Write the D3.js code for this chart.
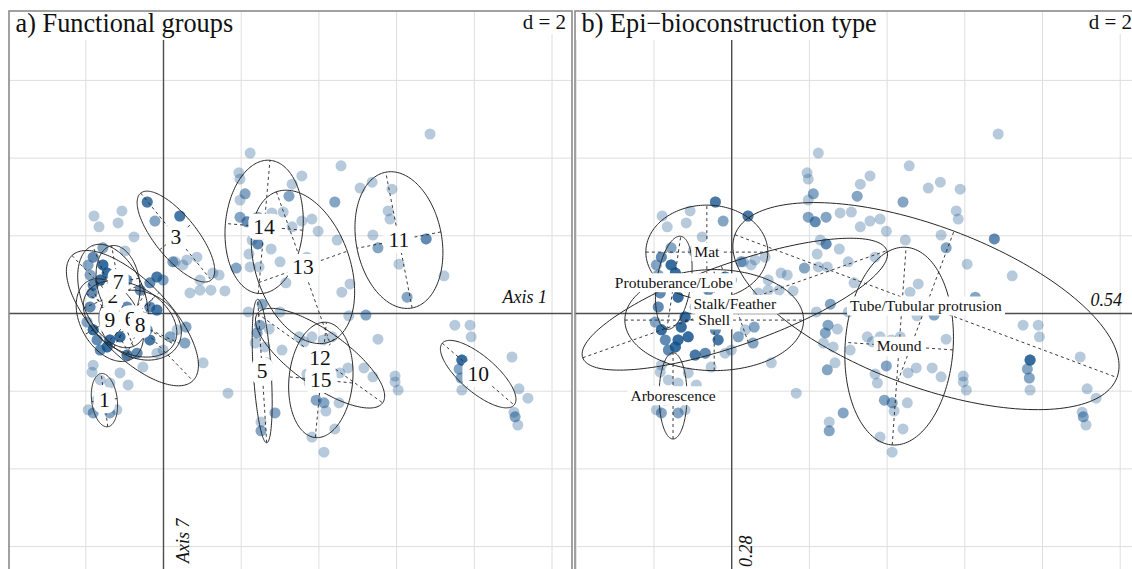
<!DOCTYPE html>
<html>
<head>
<meta charset="utf-8">
<script src="https://cdn.jsdelivr.net/npm/d3@7"></script>
<style>
  html, body { margin: 0; padding: 0; background: #fff; }
  svg { display: block; }
  text { font-family: "Liberation Serif", "Times New Roman", serif; fill: #111; }
</style>
</head>
<body>
<svg id="chart" width="1132" height="569"></svg>
<script>
// Sample scores on the two retained axes: [axis 1, axis 7, number of coincident samples]
const samples = [
  [6.86,4.62,1],[2.23,4.13,1],[1.94,3.62,1],[1.97,3.46,1],[3.56,3.54,1],[4.57,3.80,1],
  [3.31,3.33,1],[2.10,3.08,2],[1.97,2.92,1],[5.06,3.23,1],[5.37,3.38,1],[5.88,3.20,1],
  [4.41,2.87,2],[3.23,3.02,2],[2.79,2.59,1],[3.08,2.61,1],[1.97,2.48,2],[2.15,2.36,3],
  [2.43,2.48,2],[3.56,2.38,1],[3.82,2.43,1],[3.31,2.23,1],[3.98,2.12,1],[5.78,2.64,1],
  [5.83,2.43,1],[5.39,2.02,1],[5.52,1.69,2],[6.76,1.92,3],[4.47,1.89,1],[2.28,1.89,1],
  [2.43,1.79,3],[2.77,1.66,1],[2.20,1.53,1],[3.00,1.33,1],[3.69,1.45,1],[1.87,1.17,2],
  [2.23,1.20,1],[2.46,1.20,1],[6.06,1.27,1],[7.22,0.97,1],[3.15,0.79,1],[4.80,0.76,1],
  [4.59,0.55,1],[6.27,0.42,2],[2.54,0.24,2],[2.18,0.04,1],[5.21,-0.04,2],[4.77,-0.06,1],
  [2.48,-0.30,2],[2.41,-0.50,2],[2.72,-0.40,1],[2.36,-0.76,1],[2.61,-0.86,1],[3.05,-0.94,1],
  [3.62,-0.73,1],[3.82,-0.60,1],[3.49,-0.60,1],[4.11,-0.68,1],[4.34,-0.60,1],[5.52,-0.66,1],
  [7.50,-0.30,1],[7.89,-0.30,1],[7.92,-0.60,1],[7.68,-1.20,5],[7.61,-1.43,2],[7.66,-1.66,2],
  [7.68,-1.97,1],[8.97,-1.12,1],[9.15,-1.94,1],[9.38,-2.18,1],[9.02,-2.54,1],[9.05,-2.66,2],
  [9.12,-2.87,1],[3.98,-1.35,2],[4.54,-1.53,1],[4.75,-1.40,1],[5.16,-1.40,1],[5.39,-1.63,1],
  [5.96,-1.61,1],[5.96,-1.76,1],[6.04,-1.97,1],[3.69,-1.56,1],[3.75,-1.79,1],[2.46,-1.45,2],
  [2.66,-1.27,1],[1.66,-2.05,1],[2.87,-2.56,2],[2.51,-2.79,1],[2.51,-3.02,2],[3.93,-2.23,2],
  [4.13,-2.30,2],[4.18,-2.51,1],[4.52,-2.30,1],[4.41,-2.97,1],[3.82,-3.18,1],[4.13,-3.57,1],
  [1.02,-1.27,1],[-0.42,2.87,4],[0.42,2.51,4],[-0.22,2.38,2],[-1.79,2.51,1],[-1.66,2.23,1],
  [-1.07,2.64,1],[-1.17,2.33,1],[-0.76,1.97,1],[-1.56,1.69,2],[-0.99,1.61,1],[0.24,1.33,2],
  [0.50,1.25,1],[0.86,1.45,1],[1.27,1.04,1],[1.43,0.99,1],[0.94,0.86,1],[1.22,0.60,1],
  [0.68,0.53,1],[1.58,0.58,1],[0.58,-0.35,2],[0.55,-0.76,2],[3.00,0.04,1],
  [-1.81,1.45,3],[-1.94,1.25,2],[-1.89,0.99,2],[-1.56,1.25,5],[-1.45,1.04,5],[-1.63,0.86,5],
  [-1.81,0.73,3],[-1.84,0.53,3],[-1.89,0.17,3],[-1.97,-0.22,2],[-1.81,-0.42,5],[-1.71,-0.68,3],
  [-1.63,-0.94,3],[-1.45,-0.86,5],[-1.38,-0.68,5],[-1.81,-1.33,1],[-1.84,-1.51,1],[-1.63,-1.71,1],
  [-1.38,-1.79,1],[-0.91,-1.84,1],[-1.12,-1.53,1],[-0.53,-1.38,1],[-0.94,-1.07,4],[-0.68,-1.02,3],
  [-0.35,-0.68,4],[-0.17,-1.02,1],[-0.01,-0.94,1],[0.17,-0.60,2],[0.35,-0.42,1],[-0.17,0.94,4],
  [-0.01,0.86,2],[-0.35,0.79,3],[-0.60,0.60,3],[-0.35,0.17,3],[-0.17,0.09,4],[-0.94,0.17,3],
  [-0.68,-0.24,3],[-1.20,-0.09,5],[-1.38,0.42,5],[-0.94,0.86,3],[-0.53,-0.09,3],[-0.42,-0.42,3],
  [-1.12,-0.60,5],[-1.30,-0.35,5],[0.60,1.38,1],[0.30,1.33,1],[0.94,0.60,1],
  [-1.71,-2.23,1],[-1.56,-2.15,2],[-1.81,-2.56,2],[-1.38,-2.56,2],[-1.20,-2.48,1],[-1.94,-2.48,1]
];

// Functional groups: ellipse [centre x, centre y, semi-major, semi-minor, angle of major axis (deg)]
const groupNames = ["1","2","3","4","5","6","7","8","9","10","11","12","13","14","15"];
const groupEllipses = [
  [-1.52,-2.23,0.69,0.33,97],
  [-1.30, 0.45,1.40,0.80,112],
  [ 0.32, 1.98,1.44,0.54,-51],
  [-0.80,-0.12,2.24,0.95,-46],
  [ 2.54,-1.48,1.85,0.23,93.6],
  [-0.86,-0.14,1.30,0.85,-30],
  [-1.17, 0.81,0.95,0.55,100],
  [-0.60,-0.30,1.10,0.85,-25],
  [-1.38,-0.17,1.15,0.75,120],
  [ 8.10,-1.56,1.22,0.46,-40.7],
  [ 6.06, 1.89,1.78,1.10,101],
  [ 4.03,-1.15,1.98,0.70,-35.5],
  [ 3.59, 1.20,2.05,1.21,-70.5],
  [ 2.59, 2.23,1.72,1.00,85],
  [ 4.05,-1.71,1.49,0.82,84.5]
];

// Epi-bioconstruction types, same ellipse layout
const typeNames = ["Arborescence","Mat","Mound","Protuberance/Lobe","Shell","Stalk/Feather","Tube/Tubular protrusion"];
const typeEllipses = [
  [-1.51,-2.12,1.11,0.36,90],
  [-0.64, 1.58,1.57,1.21,0],
  [ 4.31,-0.84,2.55,1.39,86],
  [-1.49, 0.79,1.21,0.44,81.5],
  [-0.45,-0.17,2.30,1.30,0],
  [ 0.08, 0.24,4.15,1.05,19.4],
  [ 5.00, 0.19,5.25,2.06,-20.5]
];

const panelTitles = ["a) Functional groups", "b) Epi\u2212bioconstruction type"];
const axisNames = [["Axis 1", "Axis 7"], ["0.54", "0.28"]];
const gridStep = 2;

const svg = d3.select("#chart");
const UNIT = 38.85;       // pixels per score unit
const SIZE = 563;         // square panel side
const panels = [
  { left: 9,   top: 11, ox: 163.5, oy: 313.5, title: panelTitles[0], names: groupNames, ells: groupEllipses,
    labelSize: 21.5, padX: 5, boxH: 26, rx: 7, axes: axisNames[0], hLabEnd: 547, hLabY: 303, vLabX: 189, vLabY: 563 },
  { left: 575, top: 11, ox: 731.7, oy: 313.5, title: panelTitles[1], names: typeNames, ells: typeEllipses,
    labelSize: 15.5, padX: 3, boxH: 19, rx: 2, axes: axisNames[1], hLabEnd: 1122, hLabY: 306, vLabX: 752, vLabY: 567 }
];

const ellipseLine = d3.line();

panels.forEach((p, i) => {
  const x = d3.scaleLinear()
    .domain([(p.left - p.ox) / UNIT, (p.left + SIZE - p.ox) / UNIT])
    .range([p.left, p.left + SIZE]);
  const y = d3.scaleLinear()
    .domain([(p.oy - p.top - SIZE) / UNIT, (p.oy - p.top) / UNIT])
    .range([p.top + SIZE, p.top]);

  const clipId = "panel-clip-" + i;
  svg.append("clipPath").attr("id", clipId)
    .append("rect").attr("x", p.left).attr("y", p.top).attr("width", SIZE).attr("height", SIZE);
  const g = svg.append("g").attr("clip-path", `url(#${clipId})`);

  g.append("rect").attr("x", p.left).attr("y", p.top).attr("width", SIZE).attr("height", SIZE).attr("fill", "#fff");

  // grid
  const [x0, x1] = x.domain(), [y0, y1] = y.domain();
  const xGrid = d3.range(Math.ceil(x0 / gridStep) * gridStep, x1, gridStep);
  const yGrid = d3.range(Math.ceil(y0 / gridStep) * gridStep, y1, gridStep);
  g.append("g").selectAll("line").data(xGrid).join("line")
    .attr("x1", d => x(d)).attr("x2", d => x(d)).attr("y1", p.top).attr("y2", p.top + SIZE)
    .attr("stroke", "#dedede").attr("stroke-width", 1);
  g.append("g").selectAll("line").data(yGrid).join("line")
    .attr("y1", d => y(d)).attr("y2", d => y(d)).attr("x1", p.left).attr("x2", p.left + SIZE)
    .attr("stroke", "#dedede").attr("stroke-width", 1);

  // origin axes
  g.append("line").attr("x1", p.left).attr("x2", p.left + SIZE).attr("y1", y(0)).attr("y2", y(0))
    .attr("stroke", "#4d4d4d").attr("stroke-width", 1.4);
  g.append("line").attr("x1", x(0)).attr("x2", x(0)).attr("y1", p.top).attr("y2", p.top + SIZE)
    .attr("stroke", "#4d4d4d").attr("stroke-width", 1.4);

  // samples, one disc per sample
  const discs = samples.flatMap(s => d3.range(s[2]).map(() => s));
  g.append("g").selectAll("circle").data(discs).join("circle")
    .attr("cx", d => x(d[0])).attr("cy", d => y(d[1])).attr("r", 5.5)
    .attr("fill", "#104E8B").attr("fill-opacity", 0.3);

  // ellipses with their principal axes
  const eg = g.append("g").attr("fill", "none");
  p.ells.forEach(([cx, cy, a, b, ang]) => {
    const th = ang * Math.PI / 180, c = Math.cos(th), s = Math.sin(th);
    const pts = d3.range(0, 361, 2).map(t => {
      const r = t * Math.PI / 180;
      const u = a * Math.cos(r), v = b * Math.sin(r);
      return [x(cx + u * c - v * s), y(cy + u * s + v * c)];
    });
    eg.append("path").attr("d", ellipseLine(pts)).attr("stroke", "#262626").attr("stroke-width", 1);
    eg.append("line")
      .attr("x1", x(cx - a * c)).attr("y1", y(cy - a * s)).attr("x2", x(cx + a * c)).attr("y2", y(cy + a * s))
      .attr("stroke", "#262626").attr("stroke-width", 0.9).attr("stroke-dasharray", "3,3");
    eg.append("line")
      .attr("x1", x(cx + b * s)).attr("y1", y(cy - b * c)).attr("x2", x(cx - b * s)).attr("y2", y(cy + b * c))
      .attr("stroke", "#262626").attr("stroke-width", 0.9).attr("stroke-dasharray", "3,3");
  });

  // class labels on white boxes
  const lg = g.append("g");
  p.names.forEach((name, k) => {
    const [cx, cy] = p.ells[k];
    const lab = lg.append("g").attr("transform", `translate(${x(cx)},${y(cy)})`);
    const rect = lab.append("rect").attr("fill", "#fff");
    const t = lab.append("text").attr("text-anchor", "middle").attr("dy", "0.34em")
      .style("font-size", p.labelSize + "px").text(name);
    const bb = t.node().getBBox();
    rect.attr("x", bb.x - p.padX).attr("y", -p.boxH / 2).attr("width", bb.width + 2 * p.padX)
      .attr("height", p.boxH).attr("rx", p.rx);
  });

  // axis names
  g.append("text").attr("x", p.hLabEnd).attr("y", p.hLabY).attr("text-anchor", "end")
    .style("font-size", "18px").style("font-style", "italic").text(p.axes[0]);
  g.append("text").attr("transform", `translate(${p.vLabX},${p.vLabY}) rotate(-90)`)
    .style("font-size", "18px").style("font-style", "italic").text(p.axes[1]);

  // title
  const tg = g.append("g");
  const tr = tg.append("rect").attr("fill", "#fff");
  const tt = tg.append("text").attr("x", p.left + 6.5).attr("y", p.top + 21)
    .style("font-size", "26.3px").text(p.title);
  const tb = tt.node().getBBox();
  tr.attr("x", p.left).attr("y", p.top).attr("width", tb.x + tb.width + 4 - p.left).attr("height", 29);

  // grid size
  const dg = g.append("g");
  const dr = dg.append("rect").attr("fill", "#fff");
  const dt = dg.append("text").attr("x", p.left + SIZE - 6).attr("y", p.top + 18).attr("text-anchor", "end")
    .style("font-size", "21px").text("d = " + gridStep);
  const db = dt.node().getBBox();
  dr.attr("x", db.x - 4).attr("y", p.top).attr("width", db.width + 10).attr("height", 23);

  // frame
  svg.append("rect").attr("x", p.left).attr("y", p.top).attr("width", SIZE).attr("height", SIZE)
    .attr("fill", "none").attr("stroke", "#8a8a8a").attr("stroke-width", 1.6);
});
</script>
</body>
</html>
